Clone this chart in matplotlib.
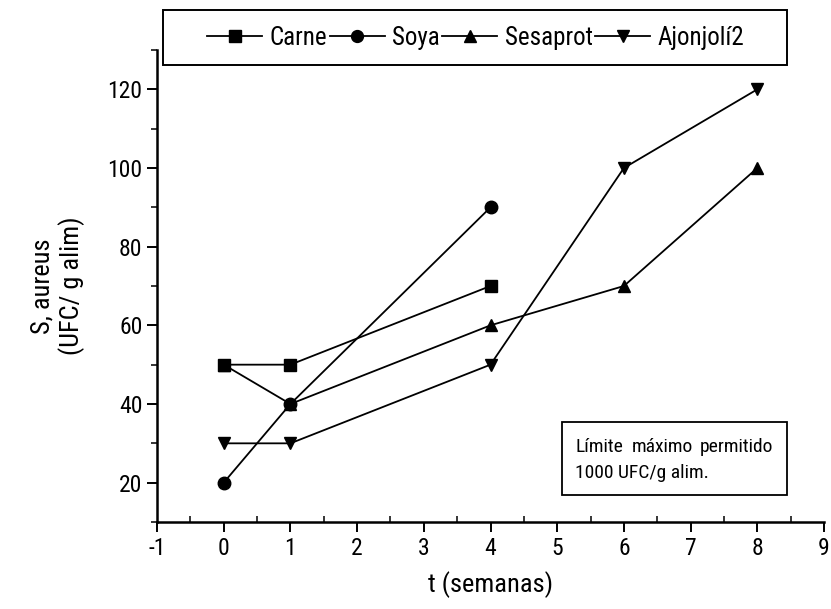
import matplotlib.pyplot as plt
from matplotlib.ticker import MultipleLocator
from matplotlib.patches import Rectangle
from matplotlib import font_manager

# weeks and counts (UFC / g alim)
carne_t = [0, 1, 4]
carne_y = [50, 50, 70]
soya_t = [0, 1, 4]
soya_y = [20, 40, 90]
sesaprot_t = [0, 1, 4, 6, 8]
sesaprot_y = [50, 40, 60, 70, 100]
ajonjoli_t = [0, 1, 4, 6, 8]
ajonjoli_y = [30, 30, 50, 100, 120]

names = set(f.name for f in font_manager.fontManager.ttflist)
fams = [n for n in ['Liberation Sans Narrow', 'Roboto Condensed', 'Archivo Narrow']
        if n in names]
plt.rcParams['font.family'] = fams[:1] + ['Liberation Sans', 'DejaVu Sans']
plt.rcParams['axes.unicode_minus'] = False

W, H = 831, 609
fig = plt.figure(figsize=(W / 100, H / 100), dpi=100)
ax = fig.add_axes([157 / W, 1 - 522 / H, 667 / W, 472 / H])

kw = dict(color='black', linewidth=1.3, markersize=9)
l1, = ax.plot(carne_t, carne_y, marker='s', label='Carne', **kw)
l2, = ax.plot(soya_t, soya_y, marker='o', label='Soya', **kw)
l3, = ax.plot(sesaprot_t, sesaprot_y, marker='^', label='Sesaprot', **kw)
l4, = ax.plot(ajonjoli_t, ajonjoli_y, marker='v', label='Ajonjolí2', **kw)

ax.set_xlim(-1, 9)
ax.set_ylim(10, 130)
ax.xaxis.set_major_locator(MultipleLocator(1))
ax.xaxis.set_minor_locator(MultipleLocator(0.5))
ax.yaxis.set_minor_locator(MultipleLocator(10))
ax.set_yticks([20, 40, 60, 80, 100, 120])
ax.tick_params(which='major', direction='out', length=7, width=1.4, labelsize=17)
ax.tick_params(axis='y', which='minor', direction='out', length=4, width=1.1)
ax.tick_params(axis='x', which='minor', direction='in', length=4, width=1.1)

for s in ['top', 'right']:
    ax.spines[s].set_visible(False)
for s in ['left', 'bottom']:
    ax.spines[s].set_linewidth(1.8)

ax.set_xlabel('t (semanas)', fontsize=19, labelpad=8)
ax.set_ylabel('S, aureus\n(UFC/ g alim)', fontsize=19, labelpad=16)

# legend row across the top, framed by a separate box
leg = fig.legend(handles=[l1, l2, l3, l4], loc='center left',
                 bbox_to_anchor=(207 / W, 1 - 38 / H), ncol=4, frameon=False,
                 fontsize=18, handlelength=2.2, handletextpad=0.3,
                 columnspacing=0.1, borderpad=0, borderaxespad=0,
                 markerscale=0.95)
fig.patches.append(Rectangle((163 / W, 1 - 65 / H), 624 / W, 55 / H,
                             transform=fig.transFigure, fill=False,
                             edgecolor='black', linewidth=1.4))

# note box in the lower right
ax.add_patch(Rectangle((0.607, 0.057), 0.338, 0.155, transform=ax.transAxes,
                       facecolor='white', edgecolor='black', linewidth=1.3,
                       zorder=5))
tkw = dict(transform=ax.transAxes, fontsize=14, va='baseline', zorder=6)
ax.text(0.627, 0.148, 'Límite', ha='left', **tkw)
ax.text(0.757, 0.148, 'máximo', ha='center', **tkw)
ax.text(0.924, 0.148, 'permitido', ha='right', **tkw)
ax.text(0.627, 0.093, '1000 UFC/g alim.', ha='left', **tkw)

fig.savefig('out.png', dpi=100)
